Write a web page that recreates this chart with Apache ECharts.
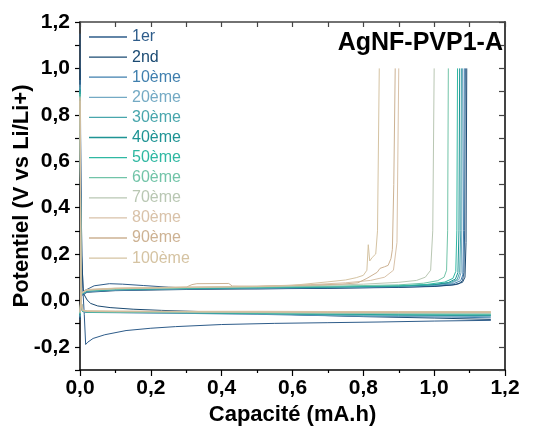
<!DOCTYPE html>
<html><head><meta charset="utf-8">
<script src="https://cdn.jsdelivr.net/npm/echarts@6/dist/echarts.min.js"></script>
<style>html,body{margin:0;padding:0;background:#fff}#c{width:534px;height:430px}</style>
</head><body><div id="c"></div>
<script>
const cycleNames = ['1er','2nd','10ème','20ème','30ème','40ème','50ème','60ème','70ème','80ème','90ème','100ème'];
const cycleColors = ['#2e5c8a','#1a4a72','#3f7fae','#74aac4','#48a6ac','#1e9494','#2fb8a2','#72c4a8','#b9c7b3','#d9c2a9','#cdb293','#d5c3a2'];

// Discharge curves (capacity mA.h, potential V)
const D1 = [[0,1.15],[0.003,0.4],[0.008,0.05],[0.012,-0.06],[0.016,-0.19],[0.022,-0.18],[0.037,-0.164],[0.07,-0.148],[0.13,-0.13],[0.2,-0.12],[0.27,-0.113],[0.4,-0.104],[0.55,-0.099],[0.7,-0.096],[0.85,-0.093],[1.0,-0.089],[1.16,-0.086]];
const D2 = [[0,1.0],[0.004,0.2],[0.01,0.03],[0.02,0.002],[0.03,-0.013],[0.05,-0.024],[0.085,-0.031],[0.15,-0.038],[0.23,-0.043],[0.42,-0.052],[0.6,-0.061],[0.8,-0.07],[1.0,-0.076],[1.16,-0.082]];
const D10 = [[0,0.95],[0.003,0.0],[0.007,-0.048],[0.02,-0.052],[0.1,-0.053],[0.3,-0.056],[0.5,-0.06],[0.7,-0.066],[0.9,-0.07],[1.05,-0.072],[1.16,-0.075]];
const D20 = [[0,0.93],[0.003,0.0],[0.007,-0.047],[0.02,-0.051],[0.1,-0.052],[0.3,-0.055],[0.5,-0.058],[0.65,-0.062],[0.8,-0.067],[1.0,-0.068],[1.16,-0.07]];
const D30 = [[0,0.92],[0.003,0.0],[0.007,-0.046],[0.02,-0.05],[0.1,-0.051],[0.3,-0.054],[0.5,-0.057],[0.7,-0.062],[0.9,-0.064],[1.16,-0.066]];
const D40 = [[0,0.91],[0.003,0.0],[0.007,-0.046],[0.02,-0.05],[0.1,-0.05],[0.3,-0.053],[0.5,-0.056],[0.7,-0.059],[0.9,-0.062],[1.16,-0.064]];
const D50 = [[0,0.9],[0.003,0.0],[0.007,-0.046],[0.02,-0.05],[0.1,-0.05],[0.3,-0.052],[0.5,-0.055],[0.7,-0.058],[0.9,-0.059],[1.16,-0.06]];
const D60 = [[0,0.89],[0.003,0.0],[0.007,-0.045],[0.02,-0.049],[0.1,-0.05],[0.3,-0.051],[0.5,-0.054],[0.7,-0.056],[0.9,-0.057],[1.16,-0.058]];
const D70 = [[0,0.88],[0.003,0.0],[0.007,-0.044],[0.02,-0.048],[0.1,-0.049],[0.3,-0.05],[0.5,-0.052],[0.7,-0.054],[0.9,-0.055],[1.16,-0.055]];
const D80 = [[0,0.875],[0.003,0.0],[0.007,-0.043],[0.02,-0.047],[0.1,-0.048],[0.3,-0.049],[0.5,-0.05],[0.7,-0.052],[0.9,-0.052],[1.16,-0.052]];
const D90 = [[0,0.87],[0.003,0.0],[0.007,-0.042],[0.02,-0.046],[0.1,-0.047],[0.3,-0.048],[0.5,-0.049],[0.7,-0.05],[0.9,-0.05],[1.16,-0.05]];
const D100 = [[0,0.86],[0.003,0.0],[0.007,-0.041],[0.02,-0.045],[0.1,-0.046],[0.3,-0.047],[0.5,-0.047],[0.7,-0.048],[0.9,-0.048],[1.16,-0.048]];

// Charge curves
const C1 = [[0,-0.085],[0.004,0.02],[0.014,0.043],[0.04,0.063],[0.083,0.072],[0.12,0.07],[0.18,0.064],[0.25,0.057],[0.32,0.052],[0.5,0.05],[0.7,0.052],[0.9,0.056],[1.0,0.06],[1.05,0.066],[1.07,0.072],[1.08,0.085],[1.084,0.12],[1.086,0.3],[1.088,1.0]];
const C2 = [[0,-0.08],[0.003,0.02],[0.02,0.035],[0.1,0.042],[0.3,0.047],[0.5,0.05],[0.7,0.053],[0.9,0.057],[1.0,0.061],[1.06,0.068],[1.08,0.078],[1.087,0.1],[1.09,0.25],[1.092,1.0]];
const C10 = [[0,-0.075],[0.003,0.022],[0.02,0.037],[0.1,0.044],[0.3,0.049],[0.5,0.052],[0.7,0.055],[0.9,0.059],[1.0,0.064],[1.055,0.072],[1.075,0.085],[1.081,0.11],[1.083,0.3],[1.085,1.0]];
const C20 = [[0,-0.07],[0.003,0.024],[0.02,0.039],[0.1,0.045],[0.3,0.05],[0.5,0.053],[0.7,0.056],[0.9,0.06],[1.0,0.066],[1.05,0.075],[1.07,0.09],[1.076,0.12],[1.078,0.3],[1.08,1.0]];
const C30 = [[0,-0.066],[0.003,0.025],[0.02,0.04],[0.1,0.046],[0.3,0.051],[0.5,0.054],[0.7,0.057],[0.9,0.061],[1.0,0.067],[1.045,0.076],[1.065,0.09],[1.072,0.12],[1.075,0.3],[1.077,1.0]];
const C40 = [[0,-0.064],[0.003,0.026],[0.02,0.041],[0.1,0.047],[0.3,0.052],[0.5,0.055],[0.7,0.058],[0.9,0.062],[1.0,0.068],[1.04,0.077],[1.06,0.092],[1.067,0.12],[1.07,0.3],[1.072,1.0]];
const C50 = [[0,-0.06],[0.003,0.027],[0.02,0.042],[0.1,0.048],[0.3,0.053],[0.5,0.056],[0.7,0.059],[0.9,0.063],[0.98,0.069],[1.03,0.079],[1.053,0.095],[1.061,0.125],[1.064,0.3],[1.066,1.0]];
const C60 = [[0,-0.058],[0.003,0.028],[0.02,0.043],[0.1,0.049],[0.3,0.054],[0.5,0.057],[0.7,0.061],[0.9,0.067],[0.97,0.074],[1.01,0.085],[1.028,0.1],[1.035,0.13],[1.038,0.3],[1.04,1.0]];
const C70 = [[0,-0.055],[0.003,0.029],[0.02,0.044],[0.1,0.05],[0.3,0.055],[0.5,0.059],[0.7,0.065],[0.8,0.07],[0.9,0.078],[0.95,0.086],[0.975,0.1],[0.99,0.13],[0.996,0.3],[1.0,1.0]];
const C80 = [[0,-0.052],[0.003,0.03],[0.02,0.045],[0.1,0.051],[0.3,0.056],[0.5,0.061],[0.65,0.068],[0.75,0.076],[0.82,0.086],[0.86,0.1],[0.885,0.13],[0.895,0.25],[0.9,1.0]];
const C90 = [[0,-0.05],[0.003,0.03],[0.02,0.046],[0.1,0.052],[0.3,0.057],[0.316,0.068],[0.33,0.072],[0.42,0.073],[0.43,0.062],[0.5,0.061],[0.65,0.066],[0.74,0.07],[0.785,0.076],[0.81,0.095],[0.839,0.121],[0.847,0.138],[0.86,0.145],[0.87,0.151],[0.878,0.18],[0.882,0.22],[0.886,0.5],[0.89,1.0]];
const C100 = [[0,-0.048],[0.003,0.031],[0.02,0.047],[0.1,0.053],[0.3,0.058],[0.5,0.06],[0.6,0.065],[0.7,0.08],[0.75,0.088],[0.78,0.098],[0.8,0.108],[0.81,0.13],[0.814,0.24],[0.818,0.17],[0.825,0.185],[0.835,0.2],[0.84,0.3],[0.845,1.0]];

const dischargeCurves = [D1,D2,D10,D20,D30,D40,D50,D60,D70,D80,D90,D100];
const chargeCurves = [C1,C2,C10,C20,C30,C40,C50,C60,C70,C80,C90,C100];

const FONT = "'Liberation Sans', Arial, Helvetica, sans-serif";
const fmt = v => (Math.round(v*10)/10).toFixed(1).replace('.', ',');

const series = [];
cycleNames.forEach((n, i) => {
  [dischargeCurves[i], chargeCurves[i]].forEach(d => {
    series.push({
      name: n, type: 'line', data: d, symbol: 'none', smooth: false,
      lineStyle: {width: 1, color: cycleColors[i]}, itemStyle: {color: cycleColors[i]},
      animation: false, clip: true
    });
  });
});

const chart = echarts.init(document.getElementById('c'), null, {renderer: 'canvas'});
chart.setOption({
  backgroundColor: '#fff',
  animation: false,
  textStyle: {fontFamily: FONT},
  title: {text: 'AgNF-PVP1-A', right: 26, top: 26, textStyle: {fontFamily: FONT, fontSize: 25, fontWeight: 'bold', color: '#000'}},
  legend: {
    orient: 'vertical', left: 89, top: 29, padding: 0, itemWidth: 38, itemHeight: 1.3, itemGap: 4.1,
    icon: 'rect',
    textStyle: {fontFamily: FONT, fontSize: 16, lineHeight: 16},
    data: cycleNames.map((n, i) => ({name: n, icon: 'rect', itemStyle: {color: cycleColors[i]}, textStyle: {color: cycleColors[i]}}))
  },
  grid: {left: 80, right: 29, top: 22, bottom: 60, outerBoundsMode: 'none', containLabel: false},
  xAxis: [{
    type: 'value', min: 0, max: 1.2, interval: 0.2, position: 'bottom',
    name: 'Capacité (mA.h)', nameLocation: 'middle', nameGap: 34, nameMoveOverlap: false,
    nameTextStyle: {fontFamily: FONT, fontSize: 22, fontWeight: 'bold', color: '#000'},
    axisLine: {onZero: false, lineStyle: {color: '#000', width: 1.5}},
    axisTick: {length: 6, lineStyle: {color: '#000', width: 1.2}},
    minorTick: {show: true, splitNumber: 2, length: 3, lineStyle: {color: '#000', width: 1.2}},
    axisLabel: {fontFamily: FONT, fontSize: 21, fontWeight: 'bold', color: '#000', margin: 8, formatter: fmt},
    splitLine: {show: false}
  }, {
    type: 'value', min: 0, max: 1.2, interval: 0.1, position: 'top',
    axisLine: {onZero: false, lineStyle: {color: '#444', width: 1.5}},
    axisTick: {inside: true, length: 5, lineStyle: {color: '#444', width: 1.2}},
    axisLabel: {show: false}, splitLine: {show: false}
  }],
  yAxis: [{
    type: 'value', min: -0.3, max: 1.2, interval: 0.1, position: 'left',
    name: 'Potentiel (V vs Li/Li+)', nameLocation: 'middle', nameGap: 47, nameMoveOverlap: false,
    nameTextStyle: {fontFamily: FONT, fontSize: 22, fontWeight: 'bold', color: '#000'},
    axisLine: {onZero: false, lineStyle: {color: '#000', width: 1.5}},
    axisTick: {length: 5, lineStyle: {color: '#000', width: 1.2}},
    axisLabel: {fontFamily: FONT, fontSize: 21, fontWeight: 'bold', color: '#000', margin: 10,
      formatter: v => (Math.abs(Math.round(v*10)) % 2 === 0 ? fmt(v) : '')},
    splitLine: {show: false}
  }, {
    type: 'value', min: -0.3, max: 1.2, interval: 0.1, position: 'right',
    axisLine: {onZero: false, lineStyle: {color: '#444', width: 2}},
    axisTick: {inside: true, length: 6, lineStyle: {color: '#444', width: 1.2}},
    axisLabel: {show: false}, splitLine: {show: false}
  }],
  series: series
});
</script></body></html>
